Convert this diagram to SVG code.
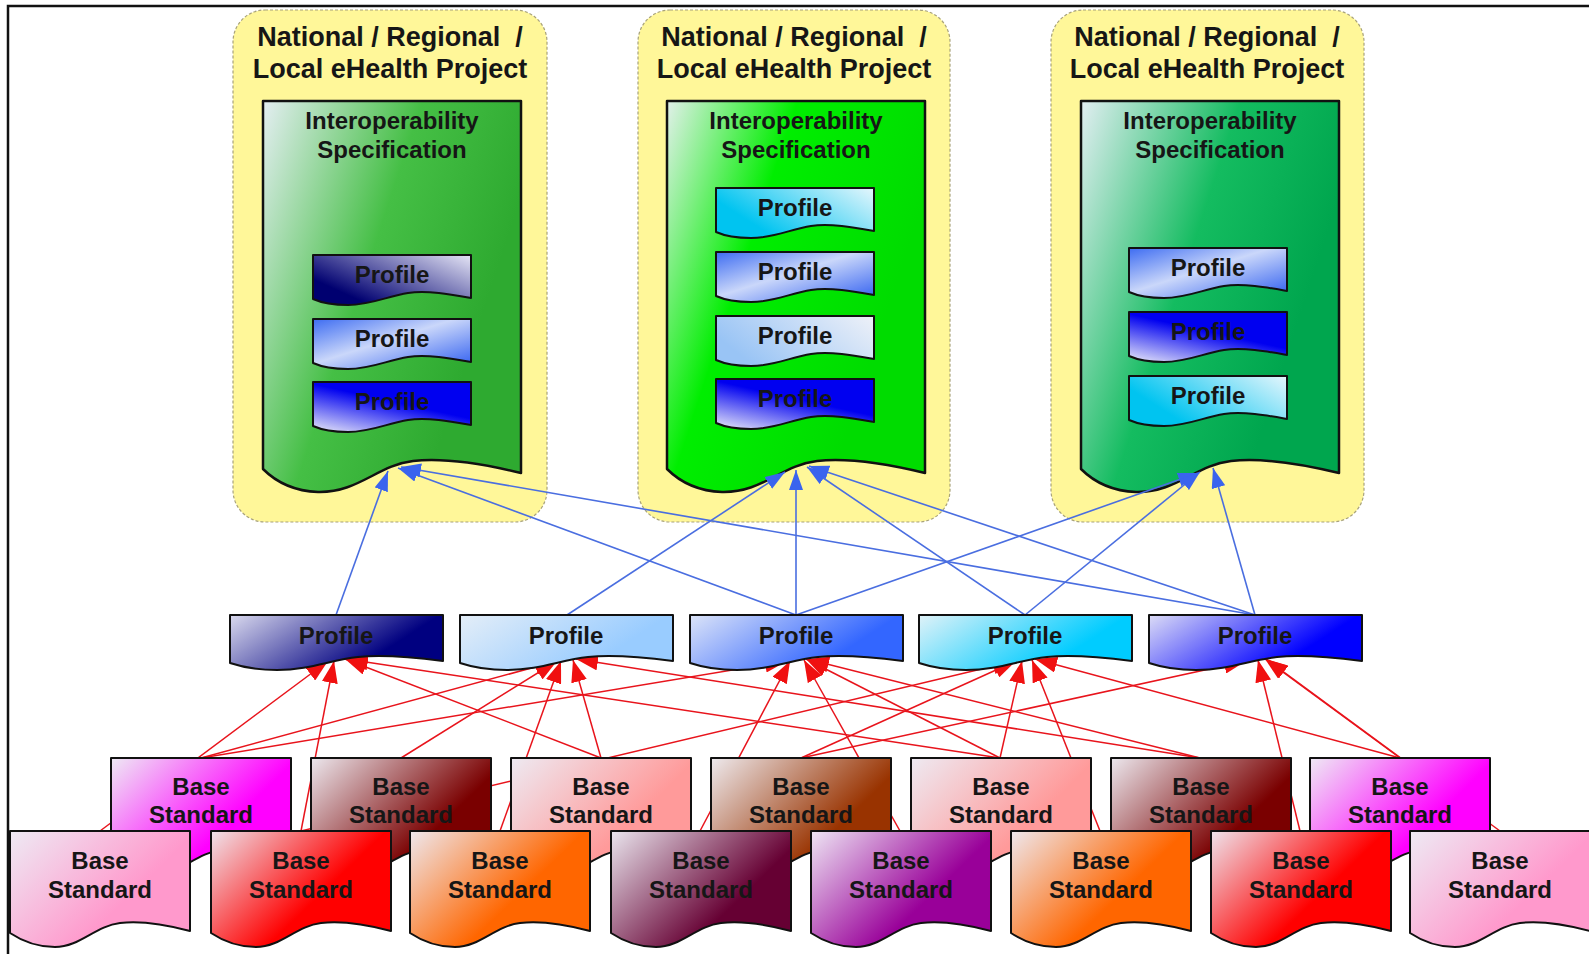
<svg xmlns="http://www.w3.org/2000/svg" width="1589" height="954" viewBox="0 0 1589 954">
<style>
.t{font-family:"Liberation Sans",Arial,sans-serif;font-weight:bold;text-anchor:middle;fill:#161616}
.ttl{font-size:27px}
.t24{font-size:24px}
.cont{fill:#fff799;stroke:#a8a27a;stroke-width:1.2;stroke-dasharray:3 2}
.doc{stroke:#111;stroke-width:2.5;stroke-linejoin:round}
.sh{stroke:#111;stroke-width:2;stroke-linejoin:round}
.bl{stroke:#4a6ee0;stroke-width:1.6;fill:none;marker-end:url(#ab)}
.rd{stroke:#e8141c;stroke-width:1.5;fill:none;marker-end:url(#ar)}
</style>
<defs>
<marker id="ab" viewBox="0 0 20 14" refX="20" refY="7" markerWidth="20" markerHeight="14" markerUnits="userSpaceOnUse" orient="auto"><path d="M0,0 L20,7 L0,14 Z" fill="#3a64ee"/></marker>
<marker id="ar" viewBox="0 0 22 16" refX="22" refY="8" markerWidth="22" markerHeight="16" markerUnits="userSpaceOnUse" orient="auto"><path d="M0,0 L22,8 L0,16 Z" fill="#f01010"/></marker>
<linearGradient id="gD1" x1="0" y1="0" x2="0.9" y2="0.45"><stop offset="0" stop-color="#e4eef2"/><stop offset="0.55" stop-color="#45bf45"/><stop offset="1" stop-color="#2eaa30"/></linearGradient>
<linearGradient id="gD2" x1="0" y1="0" x2="0.9" y2="0.45"><stop offset="0" stop-color="#e2f0ea"/><stop offset="0.45" stop-color="#00ee00"/><stop offset="1" stop-color="#00dc00"/></linearGradient>
<linearGradient id="gD3" x1="0" y1="0" x2="0.9" y2="0.45"><stop offset="0" stop-color="#e2eef2"/><stop offset="0.55" stop-color="#14bc60"/><stop offset="1" stop-color="#00a64e"/></linearGradient>
<linearGradient id="gNavy" x1="0" y1="0" x2="1" y2="0.4"><stop offset="0" stop-color="#dadaee"/><stop offset="0.85" stop-color="#000080"/></linearGradient>
<linearGradient id="gLb" x1="0" y1="0" x2="1" y2="0.4"><stop offset="0" stop-color="#e4eef8"/><stop offset="0.85" stop-color="#99ccff"/></linearGradient>
<linearGradient id="gRoy" x1="0" y1="0" x2="1" y2="0.4"><stop offset="0" stop-color="#dce4f8"/><stop offset="0.85" stop-color="#3366ff"/></linearGradient>
<linearGradient id="gCyan" x1="0" y1="0" x2="1" y2="0.4"><stop offset="0" stop-color="#e0f2f8"/><stop offset="0.85" stop-color="#00ccff"/></linearGradient>
<linearGradient id="gBlue" x1="0" y1="0" x2="1" y2="0.4"><stop offset="0" stop-color="#dcdcf6"/><stop offset="0.85" stop-color="#0000ff"/></linearGradient>
<linearGradient id="gNavyR" x1="1" y1="0" x2="0" y2="0.7"><stop offset="0" stop-color="#e6e6f6"/><stop offset="0.9" stop-color="#000070"/></linearGradient>
<linearGradient id="gRoyC" x1="0" y1="0" x2="1" y2="1"><stop offset="0" stop-color="#3d6cf2"/><stop offset="0.45" stop-color="#cad7fa"/><stop offset="1" stop-color="#2a5af0"/></linearGradient>
<linearGradient id="gBlueBL" x1="0.1" y1="1" x2="0.8" y2="0"><stop offset="0" stop-color="#dadaf8"/><stop offset="0.6" stop-color="#0000f0"/></linearGradient>
<linearGradient id="gCyanR" x1="1" y1="0" x2="0" y2="0.5"><stop offset="0" stop-color="#e6f6fc"/><stop offset="0.9" stop-color="#00c4f0"/></linearGradient>
<linearGradient id="gLbR" x1="1" y1="0" x2="0" y2="0.4"><stop offset="0" stop-color="#eef1f8"/><stop offset="1" stop-color="#99c4f5"/></linearGradient>
<linearGradient id="gMag" x1="0" y1="0" x2="0.9" y2="0.6"><stop offset="0" stop-color="#eeeaf4"/><stop offset="0.8" stop-color="#ff00ff"/></linearGradient>
<linearGradient id="gMar" x1="0" y1="0" x2="0.9" y2="0.6"><stop offset="0" stop-color="#ece8ee"/><stop offset="0.85" stop-color="#7a0000"/></linearGradient>
<linearGradient id="gSal" x1="0" y1="0" x2="0.9" y2="0.6"><stop offset="0" stop-color="#eeeaf2"/><stop offset="0.8" stop-color="#ff9a9a"/></linearGradient>
<linearGradient id="gBrn" x1="0" y1="0" x2="0.9" y2="0.6"><stop offset="0" stop-color="#eeeaee"/><stop offset="0.85" stop-color="#993300"/></linearGradient>
<linearGradient id="gPnk" x1="0" y1="0" x2="0.9" y2="0.6"><stop offset="0" stop-color="#eeeaf4"/><stop offset="0.8" stop-color="#ff99cc"/></linearGradient>
<linearGradient id="gRed" x1="0" y1="0" x2="0.9" y2="0.6"><stop offset="0" stop-color="#eee4ec"/><stop offset="0.75" stop-color="#ff0000"/></linearGradient>
<linearGradient id="gOrg" x1="0" y1="0" x2="0.9" y2="0.6"><stop offset="0" stop-color="#eee8ee"/><stop offset="0.75" stop-color="#ff6600"/></linearGradient>
<linearGradient id="gDpu" x1="0" y1="0" x2="0.9" y2="0.6"><stop offset="0" stop-color="#eae6ee"/><stop offset="0.85" stop-color="#660033"/></linearGradient>
<linearGradient id="gPur" x1="0" y1="0" x2="0.9" y2="0.6"><stop offset="0" stop-color="#eee6f4"/><stop offset="0.8" stop-color="#990099"/></linearGradient>
</defs>

<rect x="0" y="0" width="1589" height="954" fill="#ffffff"/>
<path d="M8,954 V6 H1589" fill="none" stroke="#111" stroke-width="2.5"/>

<g id="project1">
<rect class="cont" x="233" y="10" width="314" height="512" rx="32"/>
<text class="t ttl" x="390" y="46" xml:space="preserve">National / Regional  /</text>
<text class="t ttl" x="390" y="78">Local eHealth Project</text>
<g id="spec1" transform="translate(263,101)">
<path class="doc" fill="url(#gD1)" d="M0,0 H258 V372 C225,364 185,356 150,360 C115,364 95,392 55,391 C30,390 12,380 0,368 Z"/>
<text class="t t24" x="129" y="28">Interoperability</text>
<text class="t t24" x="129" y="57">Specification</text>
</g>
<g id="p1a" transform="translate(313,255)"><path class="sh" fill="url(#gNavyR)" d="M0,0 H158 V43 C141,40 115,35 95,38 C75,41 58,50 35,50 C21,50 9,48 0,44 Z"/><text class="t t24" x="79" y="28">Profile</text></g>
<g id="p1b" transform="translate(313,319)"><path class="sh" fill="url(#gRoyC)" d="M0,0 H158 V43 C141,40 115,35 95,38 C75,41 58,50 35,50 C21,50 9,48 0,44 Z"/><text class="t t24" x="79" y="28">Profile</text></g>
<g id="p1c" transform="translate(313,382)"><path class="sh" fill="url(#gBlueBL)" d="M0,0 H158 V43 C141,40 115,35 95,38 C75,41 58,50 35,50 C21,50 9,48 0,44 Z"/><text class="t t24" x="79" y="28">Profile</text></g>
</g>

<g id="project2">
<rect class="cont" x="638" y="10" width="312" height="512" rx="32"/>
<text class="t ttl" x="794" y="46" xml:space="preserve">National / Regional  /</text>
<text class="t ttl" x="794" y="78">Local eHealth Project</text>
<g id="spec2" transform="translate(667,101)">
<path class="doc" fill="url(#gD2)" d="M0,0 H258 V372 C225,364 185,356 150,360 C115,364 95,392 55,391 C30,390 12,380 0,368 Z"/>
<text class="t t24" x="129" y="28">Interoperability</text>
<text class="t t24" x="129" y="57">Specification</text>
</g>
<g id="p2a" transform="translate(716,188)"><path class="sh" fill="url(#gCyanR)" d="M0,0 H158 V43 C141,40 115,35 95,38 C75,41 58,50 35,50 C21,50 9,48 0,44 Z"/><text class="t t24" x="79" y="28">Profile</text></g>
<g id="p2b" transform="translate(716,252)"><path class="sh" fill="url(#gRoyC)" d="M0,0 H158 V43 C141,40 115,35 95,38 C75,41 58,50 35,50 C21,50 9,48 0,44 Z"/><text class="t t24" x="79" y="28">Profile</text></g>
<g id="p2c" transform="translate(716,316)"><path class="sh" fill="url(#gLbR)" d="M0,0 H158 V43 C141,40 115,35 95,38 C75,41 58,50 35,50 C21,50 9,48 0,44 Z"/><text class="t t24" x="79" y="28">Profile</text></g>
<g id="p2d" transform="translate(716,379)"><path class="sh" fill="url(#gBlueBL)" d="M0,0 H158 V43 C141,40 115,35 95,38 C75,41 58,50 35,50 C21,50 9,48 0,44 Z"/><text class="t t24" x="79" y="28">Profile</text></g>
</g>

<g id="project3">
<rect class="cont" x="1051" y="10" width="313" height="512" rx="32"/>
<text class="t ttl" x="1207" y="46" xml:space="preserve">National / Regional  /</text>
<text class="t ttl" x="1207" y="78">Local eHealth Project</text>
<g id="spec3" transform="translate(1081,101)">
<path class="doc" fill="url(#gD3)" d="M0,0 H258 V372 C225,364 185,356 150,360 C115,364 95,392 55,391 C30,390 12,380 0,368 Z"/>
<text class="t t24" x="129" y="28">Interoperability</text>
<text class="t t24" x="129" y="57">Specification</text>
</g>
<g id="p3a" transform="translate(1129,248)"><path class="sh" fill="url(#gRoyC)" d="M0,0 H158 V43 C141,40 115,35 95,38 C75,41 58,50 35,50 C21,50 9,48 0,44 Z"/><text class="t t24" x="79" y="28">Profile</text></g>
<g id="p3b" transform="translate(1129,312)"><path class="sh" fill="url(#gBlueBL)" d="M0,0 H158 V43 C141,40 115,35 95,38 C75,41 58,50 35,50 C21,50 9,48 0,44 Z"/><text class="t t24" x="79" y="28">Profile</text></g>
<g id="p3c" transform="translate(1129,376)"><path class="sh" fill="url(#gCyanR)" d="M0,0 H158 V43 C141,40 115,35 95,38 C75,41 58,50 35,50 C21,50 9,48 0,44 Z"/><text class="t t24" x="79" y="28">Profile</text></g>
</g>

<g id="connectors">
<line class="bl" x1="336" y1="615" x2="388" y2="471"/>
<line class="bl" x1="796" y1="615" x2="398" y2="468"/>
<line class="bl" x1="1255" y1="615" x2="401" y2="467"/>
<line class="bl" x1="567" y1="615" x2="785" y2="472"/>
<line class="bl" x1="796" y1="615" x2="796" y2="470"/>
<line class="bl" x1="1025" y1="615" x2="807" y2="467"/>
<line class="bl" x1="1255" y1="615" x2="809" y2="466"/>
<line class="bl" x1="796" y1="615" x2="1198" y2="473"/>
<line class="bl" x1="1025" y1="615" x2="1200" y2="472"/>
<line class="bl" x1="1255" y1="615" x2="1213" y2="468"/>

<line class="rd" x1="100" y1="831" x2="328" y2="661"/>
<line class="rd" x1="301" y1="831" x2="334" y2="661"/>
<line class="rd" x1="601" y1="758" x2="345" y2="659"/>
<line class="rd" x1="1000" y1="758" x2="346" y2="659"/>
<line class="rd" x1="201" y1="758" x2="557" y2="661"/>
<line class="rd" x1="401" y1="758" x2="557" y2="661"/>
<line class="rd" x1="500" y1="831" x2="561" y2="661"/>
<line class="rd" x1="601" y1="758" x2="573" y2="660"/>
<line class="rd" x1="1200" y1="758" x2="576" y2="659"/>
<line class="rd" x1="201" y1="758" x2="787" y2="661"/>
<line class="rd" x1="700" y1="831" x2="790" y2="661"/>
<line class="rd" x1="900" y1="831" x2="804" y2="660"/>
<line class="rd" x1="1000" y1="758" x2="806" y2="659"/>
<line class="rd" x1="1200" y1="758" x2="807" y2="659"/>
<line class="rd" x1="301" y1="831" x2="1015" y2="661"/>
<line class="rd" x1="801" y1="758" x2="1016" y2="661"/>
<line class="rd" x1="1000" y1="758" x2="1022" y2="661"/>
<line class="rd" x1="1100" y1="831" x2="1032" y2="660"/>
<line class="rd" x1="1400" y1="758" x2="1035" y2="659"/>
<line class="rd" x1="801" y1="758" x2="1246" y2="661"/>
<line class="rd" x1="1300" y1="831" x2="1258" y2="660"/>
<line class="rd" x1="1400" y1="758" x2="1265" y2="659"/>
<line class="rd" x1="1500" y1="831" x2="1266" y2="659"/>
</g>

<g id="profile1" transform="translate(230,615)"><path class="sh" fill="url(#gNavy)" d="M0,0 H213 V46 C190,43 155,39 128,42 C100,45 80,55 47,55 C28,55 12,52 0,48 Z"/><text class="t t24" x="106" y="29">Profile</text></g>
<g id="profile2" transform="translate(460,615)"><path class="sh" fill="url(#gLb)" d="M0,0 H213 V46 C190,43 155,39 128,42 C100,45 80,55 47,55 C28,55 12,52 0,48 Z"/><text class="t t24" x="106" y="29">Profile</text></g>
<g id="profile3" transform="translate(690,615)"><path class="sh" fill="url(#gRoy)" d="M0,0 H213 V46 C190,43 155,39 128,42 C100,45 80,55 47,55 C28,55 12,52 0,48 Z"/><text class="t t24" x="106" y="29">Profile</text></g>
<g id="profile4" transform="translate(919,615)"><path class="sh" fill="url(#gCyan)" d="M0,0 H213 V46 C190,43 155,39 128,42 C100,45 80,55 47,55 C28,55 12,52 0,48 Z"/><text class="t t24" x="106" y="29">Profile</text></g>
<g id="profile5" transform="translate(1149,615)"><path class="sh" fill="url(#gBlue)" d="M0,0 H213 V46 C190,43 155,39 128,42 C100,45 80,55 47,55 C28,55 12,52 0,48 Z"/><text class="t t24" x="106" y="29">Profile</text></g>

<g id="base-t1" transform="translate(111,758)"><path class="sh" fill="url(#gMag)" d="M0,0 H180 V100 C165,96 135,89 110,92 C85,95 70,116 45,116 C28,116 12,110 0,102 Z"/><text class="t t24" x="90" y="37">Base</text><text class="t t24" x="90" y="65">Standard</text></g>
<g id="base-t2" transform="translate(311,758)"><path class="sh" fill="url(#gMar)" d="M0,0 H180 V100 C165,96 135,89 110,92 C85,95 70,116 45,116 C28,116 12,110 0,102 Z"/><text class="t t24" x="90" y="37">Base</text><text class="t t24" x="90" y="65">Standard</text></g>
<g id="base-t3" transform="translate(511,758)"><path class="sh" fill="url(#gSal)" d="M0,0 H180 V100 C165,96 135,89 110,92 C85,95 70,116 45,116 C28,116 12,110 0,102 Z"/><text class="t t24" x="90" y="37">Base</text><text class="t t24" x="90" y="65">Standard</text></g>
<g id="base-t4" transform="translate(711,758)"><path class="sh" fill="url(#gBrn)" d="M0,0 H180 V100 C165,96 135,89 110,92 C85,95 70,116 45,116 C28,116 12,110 0,102 Z"/><text class="t t24" x="90" y="37">Base</text><text class="t t24" x="90" y="65">Standard</text></g>
<g id="base-t5" transform="translate(911,758)"><path class="sh" fill="url(#gSal)" d="M0,0 H180 V100 C165,96 135,89 110,92 C85,95 70,116 45,116 C28,116 12,110 0,102 Z"/><text class="t t24" x="90" y="37">Base</text><text class="t t24" x="90" y="65">Standard</text></g>
<g id="base-t6" transform="translate(1111,758)"><path class="sh" fill="url(#gMar)" d="M0,0 H180 V100 C165,96 135,89 110,92 C85,95 70,116 45,116 C28,116 12,110 0,102 Z"/><text class="t t24" x="90" y="37">Base</text><text class="t t24" x="90" y="65">Standard</text></g>
<g id="base-t7" transform="translate(1310,758)"><path class="sh" fill="url(#gMag)" d="M0,0 H180 V100 C165,96 135,89 110,92 C85,95 70,116 45,116 C28,116 12,110 0,102 Z"/><text class="t t24" x="90" y="37">Base</text><text class="t t24" x="90" y="65">Standard</text></g>

<g id="base-b1" transform="translate(10,831)"><path class="sh" fill="url(#gPnk)" d="M0,0 H180 V100 C165,96 135,89 110,92 C85,95 70,116 45,116 C28,116 12,110 0,102 Z"/><text class="t t24" x="90" y="38">Base</text><text class="t t24" x="90" y="67">Standard</text></g>
<g id="base-b2" transform="translate(211,831)"><path class="sh" fill="url(#gRed)" d="M0,0 H180 V100 C165,96 135,89 110,92 C85,95 70,116 45,116 C28,116 12,110 0,102 Z"/><text class="t t24" x="90" y="38">Base</text><text class="t t24" x="90" y="67">Standard</text></g>
<g id="base-b3" transform="translate(410,831)"><path class="sh" fill="url(#gOrg)" d="M0,0 H180 V100 C165,96 135,89 110,92 C85,95 70,116 45,116 C28,116 12,110 0,102 Z"/><text class="t t24" x="90" y="38">Base</text><text class="t t24" x="90" y="67">Standard</text></g>
<g id="base-b4" transform="translate(611,831)"><path class="sh" fill="url(#gDpu)" d="M0,0 H180 V100 C165,96 135,89 110,92 C85,95 70,116 45,116 C28,116 12,110 0,102 Z"/><text class="t t24" x="90" y="38">Base</text><text class="t t24" x="90" y="67">Standard</text></g>
<g id="base-b5" transform="translate(811,831)"><path class="sh" fill="url(#gPur)" d="M0,0 H180 V100 C165,96 135,89 110,92 C85,95 70,116 45,116 C28,116 12,110 0,102 Z"/><text class="t t24" x="90" y="38">Base</text><text class="t t24" x="90" y="67">Standard</text></g>
<g id="base-b6" transform="translate(1011,831)"><path class="sh" fill="url(#gOrg)" d="M0,0 H180 V100 C165,96 135,89 110,92 C85,95 70,116 45,116 C28,116 12,110 0,102 Z"/><text class="t t24" x="90" y="38">Base</text><text class="t t24" x="90" y="67">Standard</text></g>
<g id="base-b7" transform="translate(1211,831)"><path class="sh" fill="url(#gRed)" d="M0,0 H180 V100 C165,96 135,89 110,92 C85,95 70,116 45,116 C28,116 12,110 0,102 Z"/><text class="t t24" x="90" y="38">Base</text><text class="t t24" x="90" y="67">Standard</text></g>
<g id="base-b8" transform="translate(1410,831)"><path class="sh" fill="url(#gPnk)" d="M0,0 H180 V100 C165,96 135,89 110,92 C85,95 70,116 45,116 C28,116 12,110 0,102 Z"/><text class="t t24" x="90" y="38">Base</text><text class="t t24" x="90" y="67">Standard</text></g>
</svg>
